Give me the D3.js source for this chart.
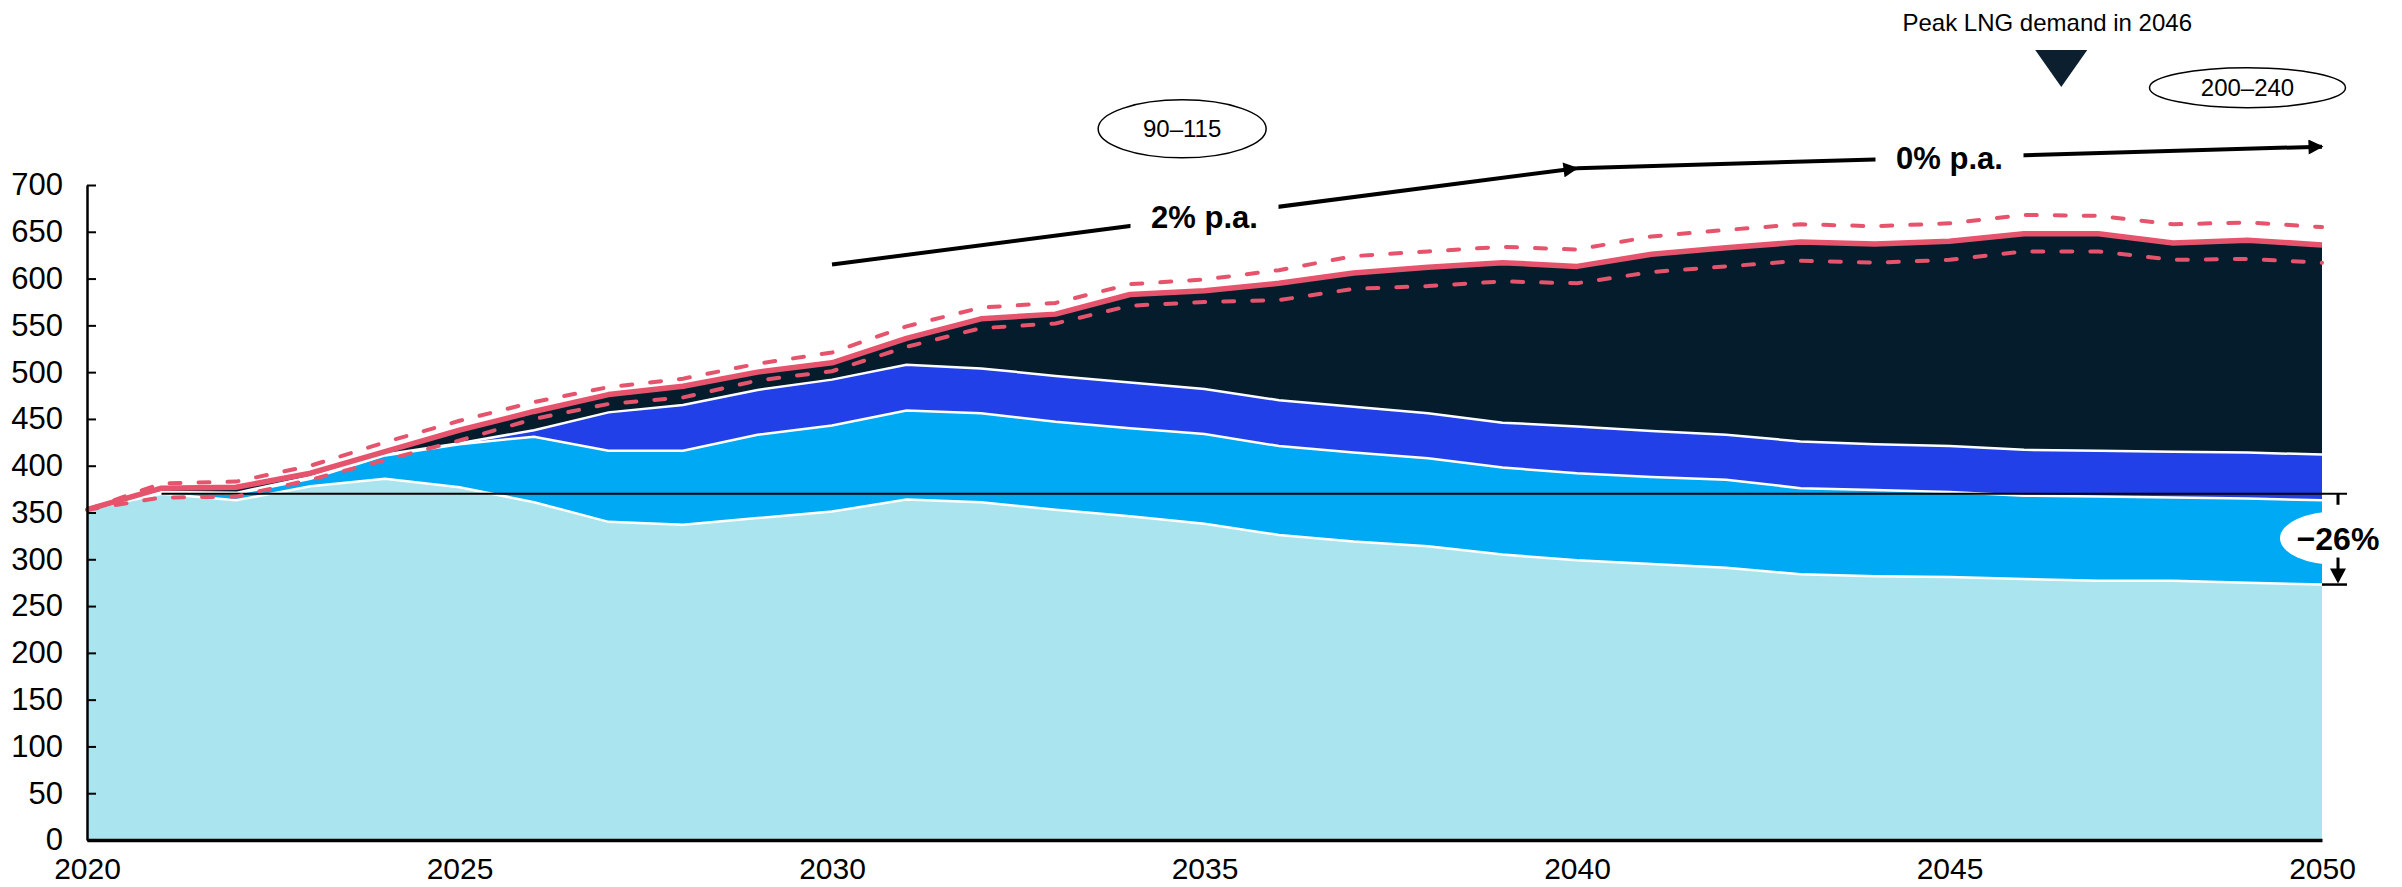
<!DOCTYPE html>
<html>
<head>
<meta charset="utf-8">
<script src="https://cdn.jsdelivr.net/npm/d3@7/dist/d3.min.js"></script>
<style>
  body { margin: 0; background: #fff; }
  svg { display: block; font-family: "Liberation Sans", Arial, sans-serif; }
</style>
</head>
<body>
<div id="chart"></div>
<script>
// years on the x axis
const years = [2020, 2021, 2022, 2023, 2024, 2025, 2026, 2027, 2028, 2029, 2030,
               2031, 2032, 2033, 2034, 2035, 2036, 2037, 2038, 2039, 2040,
               2041, 2042, 2043, 2044, 2045, 2046, 2047, 2048, 2049, 2050];

// stacked layers, bottom to top
const existingSupply    = [353, 370, 363, 378, 386, 377, 361, 340, 337, 344, 351, 364, 361, 353, 346, 338, 326, 319, 314, 305, 299, 295, 291, 284, 282, 281, 279, 277, 277, 275, 273];
const underConstruction = [0, 1, 7, 8, 25, 46, 70, 76, 79, 89, 92, 95, 95, 94, 94, 96, 95, 95, 94, 93, 93, 93, 94, 92, 92, 91, 89, 90, 89, 90, 90];
const plannedProjects   = [0, 1, 1, 2, 1, 1, 7, 41, 49, 48, 49, 49, 48, 49, 49, 48, 49, 49, 48, 48, 50, 49, 48, 50, 49, 49, 49, 49, 49, 49, 49];
const supplyGap         = [0, 4, 6, 4, 3, 14, 20, 19, 20, 19, 18, 28, 53, 66, 94, 105, 125, 143, 156, 171, 171, 189, 200, 213, 214, 219, 231, 232, 223, 227, 224];

// demand range (dashed lines)
const demandHigh = [353, 381, 383, 400, 425, 448, 468, 484, 493, 509, 521, 549, 569, 574, 594, 599, 609, 624, 629, 634, 631, 645, 652, 658, 656, 659, 668, 667, 658, 660, 655];
const demandLow  = [353, 366, 367, 385, 406, 427, 450, 466, 473, 491, 501, 527, 547, 552, 571, 575, 577, 589, 592, 597, 595, 607, 613, 619, 617, 620, 629, 629, 620, 621, 617];

const keys = ["existing", "construction", "planned", "gap"];
const colors = ["#aae5ef", "#00a9f4", "#2140e8", "#051c2c"];

const yTicks = [0, 50, 100, 150, 200, 250, 300, 350, 400, 450, 500, 550, 600, 650, 700];
const xTicks = [2020, 2025, 2030, 2035, 2040, 2045, 2050];

// annotations
const refLevel = 370, refStart = 2021, endLevel = 273;
const growthArrows = [
  {from: [2030, 615], to: [2040, 718], label: "2% p.a."},
  {from: [2040, 718], to: [2050, 741], label: "0% p.a."}
];
const ranges = [
  {year: 2034.7, value: 760, label: "90–115", rx: 84, ry: 29},
  {year: 2049.0, value: 804, label: "200–240", rx: 98, ry: 20}
];
const peakYear = 2046.5;

// build table for the stack
var table = years.map(function(yr, i) {
  return {year: yr, existing: existingSupply[i], construction: underConstruction[i],
          planned: plannedProjects[i], gap: supplyGap[i]};
});

var width = 2402, height = 887;

var svg = d3.select("#chart").append("svg")
    .attr("width", width)
    .attr("height", height);

var x = d3.scaleLinear().domain([2020, 2050]).range([87, 2322]);
var y = d3.scaleLinear().domain([0, 700]).range([840, 185]);

var stacked = d3.stack().keys(keys)(table);

var area = d3.area()
    .x(function(d) { return x(d.data.year); })
    .y0(function(d) { return y(d[0]); })
    .y1(function(d) { return y(d[1]); });

var topLine = d3.line()
    .x(function(d) { return x(d.data.year); })
    .y(function(d) { return y(d[1]); });

svg.selectAll(".layer")
  .data(stacked)
  .enter().append("path")
    .attr("class", "layer")
    .attr("d", area)
    .attr("fill", function(d, i) { return colors[i]; });

// white separators between the layers
svg.selectAll(".sep")
  .data(stacked.slice(0, 3))
  .enter().append("path")
    .attr("class", "sep")
    .attr("d", topLine)
    .attr("fill", "none")
    .attr("stroke", "#fff")
    .attr("stroke-width", 2.5);

// reference line at 2021 level
svg.append("line")
    .attr("x1", x(refStart)).attr("x2", x(2050) + 25)
    .attr("y1", y(refLevel)).attr("y2", y(refLevel))
    .attr("stroke", "#000").attr("stroke-width", 2);

// demand lines
var demandLine = d3.line()
    .x(function(d, i) { return x(years[i]); })
    .y(function(d) { return y(d); });

[demandHigh, demandLow].forEach(function(s) {
  svg.append("path")
      .attr("d", demandLine(s))
      .attr("fill", "none")
      .attr("stroke", "#e5546c")
      .attr("stroke-width", 4)
      .attr("stroke-linecap", "round")
      .attr("stroke-dasharray", "11,18");
});

svg.append("path")
    .datum(stacked[3])
    .attr("d", topLine)
    .attr("fill", "none")
    .attr("stroke", "#e5546c")
    .attr("stroke-width", 5.5)
    .attr("stroke-linejoin", "round");

// axes
var yAxis = svg.append("g")
    .attr("transform", "translate(" + x(2020) + ",0)")
    .call(d3.axisLeft(y).tickValues(yTicks).tickSizeInner(-9).tickSizeOuter(0).tickPadding(24));
yAxis.select(".domain").attr("stroke-width", 2.5);
yAxis.selectAll(".tick line").attr("stroke-width", 2);
yAxis.selectAll("text").attr("font-size", 31).attr("fill", "#000")
    .attr("font-family", "Liberation Sans, Arial, sans-serif");

var xAxis = svg.append("g")
    .attr("transform", "translate(0," + y(0) + ")")
    .call(d3.axisBottom(x).tickValues(xTicks).tickFormat(d3.format("d")).tickSize(0).tickPadding(18));
xAxis.select(".domain").attr("stroke-width", 3.5);
xAxis.selectAll("text").attr("font-size", 30).attr("fill", "#000")
    .attr("font-family", "Liberation Sans, Arial, sans-serif");

// -26% annotation
var ax = x(2050) + 16;
svg.append("line")
    .attr("x1", ax).attr("x2", ax)
    .attr("y1", y(refLevel)).attr("y2", y(refLevel) + 11)
    .attr("stroke", "#000").attr("stroke-width", 3);
svg.append("ellipse")
    .attr("cx", ax).attr("cy", (y(refLevel) + y(endLevel)) / 2 - 1)
    .attr("rx", 58).attr("ry", 27)
    .attr("fill", "#fff");
svg.append("text")
    .attr("x", ax).attr("y", (y(refLevel) + y(endLevel)) / 2 + 11)
    .attr("text-anchor", "middle")
    .attr("font-size", 32).attr("font-weight", "bold")
    .text("−26%");
svg.append("line")
    .attr("x1", ax).attr("x2", ax)
    .attr("y1", y(endLevel) - 27).attr("y2", y(endLevel) - 14)
    .attr("stroke", "#000").attr("stroke-width", 3);
svg.append("path")
    .attr("d", "M" + (ax - 8) + "," + (y(endLevel) - 16) + "L" + (ax + 8) + "," + (y(endLevel) - 16) + "L" + ax + "," + (y(endLevel) - 1) + "Z")
    .attr("fill", "#000");
svg.append("line")
    .attr("x1", x(2050)).attr("x2", x(2050) + 25)
    .attr("y1", y(endLevel)).attr("y2", y(endLevel))
    .attr("stroke", "#000").attr("stroke-width", 2.5);

// growth arrows
svg.append("defs").append("marker")
    .attr("id", "head")
    .attr("markerUnits", "userSpaceOnUse")
    .attr("viewBox", "0 0 10 10")
    .attr("refX", 9).attr("refY", 5)
    .attr("markerWidth", 16).attr("markerHeight", 15)
    .attr("orient", "auto")
  .append("path")
    .attr("d", "M0,0L10,5L0,10Z")
    .attr("fill", "#000");

growthArrows.forEach(function(a) {
  var x1 = x(a.from[0]), y1 = y(a.from[1]), x2 = x(a.to[0]), y2 = y(a.to[1]);
  svg.append("line")
      .attr("x1", x1).attr("y1", y1).attr("x2", x2).attr("y2", y2)
      .attr("stroke", "#000").attr("stroke-width", 4)
      .attr("marker-end", "url(#head)");
  var mx = (x1 + x2) / 2, my = (y1 + y2) / 2;
  svg.append("rect")
      .attr("x", mx - 74).attr("y", my - 22)
      .attr("width", 148).attr("height", 42)
      .attr("fill", "#fff");
  svg.append("text")
      .attr("x", mx).attr("y", my + 12)
      .attr("text-anchor", "middle")
      .attr("font-size", 31).attr("font-weight", "bold")
      .text(a.label);
});

// range bubbles
ranges.forEach(function(r) {
  svg.append("ellipse")
      .attr("cx", x(r.year)).attr("cy", y(r.value))
      .attr("rx", r.rx).attr("ry", r.ry)
      .attr("fill", "#fff").attr("stroke", "#000").attr("stroke-width", 1.5);
  svg.append("text")
      .attr("x", x(r.year)).attr("y", y(r.value) + 8)
      .attr("text-anchor", "middle")
      .attr("font-size", 24)
      .text(r.label);
});

// peak marker
var px = x(peakYear);
svg.append("path")
    .attr("d", "M" + (px - 26) + ",50L" + (px + 26) + ",50L" + px + ",87Z")
    .attr("fill", "#0b1f2e");
svg.append("text")
    .attr("x", px - 14).attr("y", 31)
    .attr("text-anchor", "middle")
    .attr("font-size", 24)
    .text("Peak LNG demand in 2046");
</script>
</body>
</html>
